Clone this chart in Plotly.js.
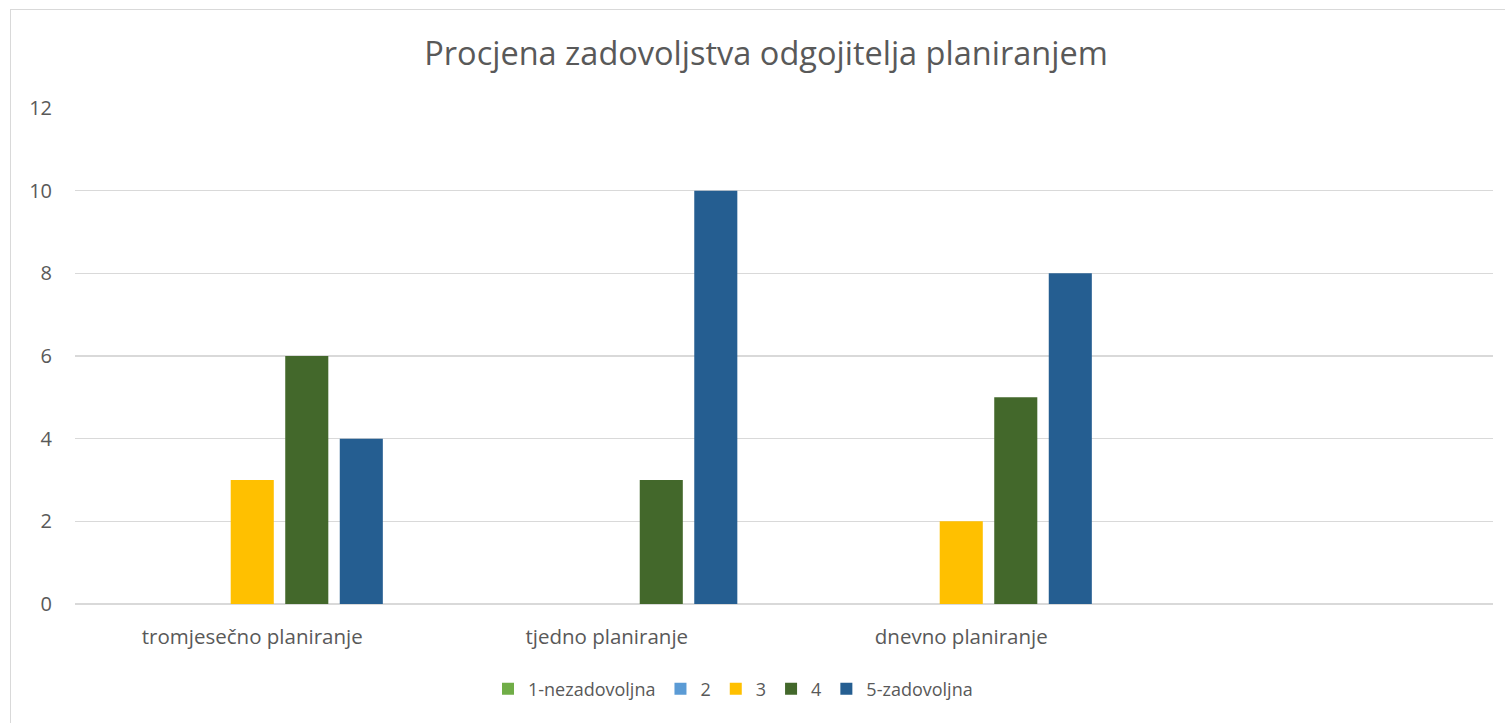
<!DOCTYPE html>
<html>
<head>
<meta charset="utf-8">
<script src="https://cdn.plot.ly/plotly-3.0.1.min.js"></script>
<style>
  html, body { margin: 0; padding: 0; background: #fff; }
  #wrap { position: relative; width: 1505px; height: 723px; overflow: hidden; }
  #chart { position: absolute; left: 0; top: 0; width: 1505px; height: 723px; }
  #frame { position: absolute; left: 10px; top: 9px; width: 1520px; height: 740px;
           border: 1px solid #d9d9d9; box-sizing: border-box; pointer-events: none; }
</style>
</head>
<body>
<div id="wrap">
  <div id="chart"></div>
  <div id="frame"></div>
</div>
<script>
const categories = ["tromjesečno planiranje", "tjedno planiranje", "dnevno planiranje"];
const seriesNames = ["1-nezadovoljna", "2", "3", "4", "5-zadovoljna"];
const s1 = [0, 0, 0];
const s2 = [0, 0, 0];
const s3 = [3, 0, 2];
const s4 = [6, 3, 5];
const s5 = [4, 10, 8];
const seriesValues = [s1, s2, s3, s4, s5];
const colors = ["#70AD47", "#5B9BD5", "#FFC000", "#43682B", "#255E91"];
const yTicks = [0, 2, 4, 6, 8, 10, 12];

const font = "Open Sans, Noto Sans, sans-serif";
const traces = seriesNames.map((name, i) => ({
  type: "bar",
  name: name,
  x: categories,
  y: seriesValues[i],
  marker: { color: colors[i] },
  hoverinfo: "skip"
}));

const layout = {
  width: 1505,
  height: 723,
  margin: { l: 75, r: 12, t: 108, b: 119 },
  paper_bgcolor: "#ffffff",
  plot_bgcolor: "#ffffff",
  barmode: "group",
  bargap: 0.231,
  bargroupgap: 0.21,
  title: {
    text: "Procjena zadovoljstva odgojitelja planiranjem",
    font: { family: font, size: 32.5, color: "#595959" },
    x: (766 - 75) / 1418, xanchor: "center",
    xref: "paper",
    y: 1 - 54 / 723, yanchor: "middle", yref: "container"
  },
  xaxis: {
    type: "category",
    categoryorder: "array",
    categoryarray: categories,
    range: [-0.5, 3.5],
    showgrid: false,
    zeroline: false,
    showline: false,
    ticks: "",
    ticklabelstandoff: 18,
    tickfont: { family: font, size: 20.5, color: "#595959" }
  },
  yaxis: {
    range: [0, 12],
    tickvals: yTicks,
    ticktext: yTicks.map(String),
    showgrid: true,
    gridcolor: "#d9d9d9",
    gridwidth: 1.6,
    zeroline: true,
    zerolinecolor: "#d9d9d9",
    zerolinewidth: 1.6,
    showline: false,
    ticks: "",
    ticklabelstandoff: 22,
    tickfont: { family: font, size: 20, color: "#595959" }
  },
  showlegend: true,
  legend: {
    orientation: "h",
    x: (733 - 75) / 1418,
    xanchor: "center",
    y: -85 / 496,
    yanchor: "middle",
    font: { family: font, size: 18, color: "#595959" },
    itemwidth: 30,
    traceorder: "normal"
  }
};

Plotly.newPlot("chart", traces, layout, { staticPlot: true, displayModeBar: false });
</script>
</body>
</html>
